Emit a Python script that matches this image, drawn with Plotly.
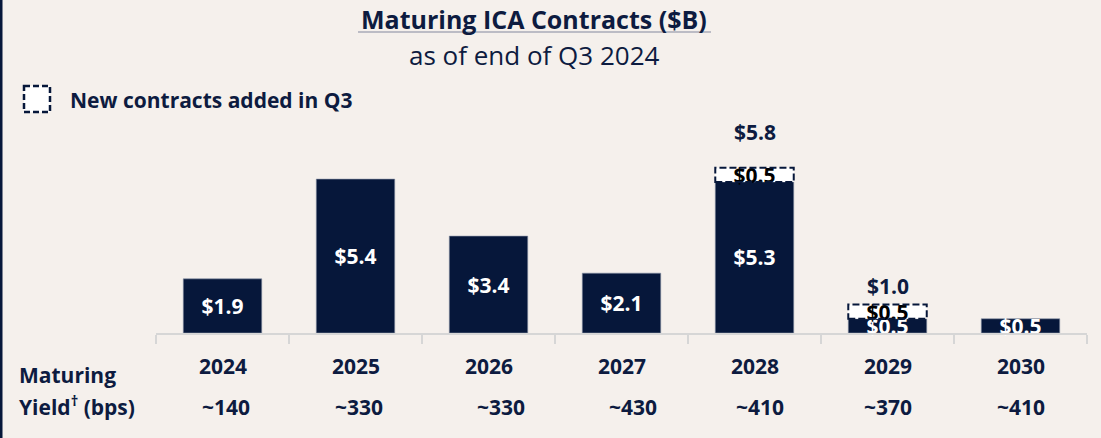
import plotly.graph_objects as go

years = ["2024", "2025", "2026", "2027", "2028", "2029", "2030"]
existing = [1.9, 5.4, 3.4, 2.1, 5.3, 0.5, 0.5]
new_q3 = [0, 0, 0, 0, 0.5, 0.5, 0]
totals = ["", "", "", "", "$5.8", "$1.0", ""]
yields = ["~140", "~330", "~330", "~430", "~410", "~370", "~410"]

NAVY = "#06173a"
TEXT = "#0d1b40"
BG = "#f5f0ec"
FONT = "Open Sans"
DASH = "7px,3px"

W, H = 1101, 438
L, R, T, B = 156, 14, 120, 105
BAR_W = 0.59


def px(x):
    return (x - L) / (W - L - R)


def py(y):
    return (H - B - y) / (H - T - B)


fig = go.Figure()

fig.add_trace(go.Bar(
    x=years, y=existing, width=BAR_W,
    marker=dict(color=NAVY, line=dict(color="#8a93a8", width=0.6)),
    text=[f"${v:.1f}" for v in existing],
    textposition="inside", insidetextanchor="middle", constraintext="none",
    textfont=dict(family=FONT, size=21, color="white", weight="bold"),
    cliponaxis=False, showlegend=False, hoverinfo="skip",
))
fig.add_trace(go.Bar(
    x=years, y=new_q3, base=existing, width=BAR_W,
    marker=dict(color="white", line=dict(width=0)),
    text=[f"${v:.1f}" if v else "" for v in new_q3],
    textposition="inside", insidetextanchor="middle", constraintext="none",
    textfont=dict(family=FONT, size=21, color="black", weight="bold"),
    cliponaxis=False, showlegend=False, hoverinfo="skip",
))

# dashed outlines around the new Q3 contracts
for i, (e, n) in enumerate(zip(existing, new_q3)):
    if n:
        fig.add_shape(type="rect", xref="x", yref="y",
                      x0=i - BAR_W / 2, x1=i + BAR_W / 2, y0=e, y1=e + n,
                      line=dict(color=NAVY, width=2, dash=DASH), layer="above")

# totals above stacked bars
total_shift = [0, 0, 0, 0, 20, 3, 0]
for i, t in enumerate(totals):
    if t:
        fig.add_annotation(x=i, y=existing[i] + new_q3[i], text=f"<b>{t}</b>",
                           yanchor="bottom", yshift=total_shift[i], showarrow=False,
                           font=dict(family=FONT, size=21, color=TEXT))

# year and yield rows
yield_shift = [3, 3, 12, 11, 5, 0, 0]
for i, (yr, yl) in enumerate(zip(years, yields)):
    fig.add_annotation(x=i, y=py(366), yref="paper", yanchor="middle", text=f"<b>{yr}</b>",
                       showarrow=False, font=dict(family=FONT, size=21, color=TEXT))
    fig.add_annotation(x=i, y=py(407), yref="paper", yanchor="middle", text=f"<b>{yl}</b>",
                       xshift=yield_shift[i], showarrow=False,
                       font=dict(family=FONT, size=21, color=TEXT))

fig.add_annotation(x=px(17), y=py(375), xref="paper", yref="paper", xanchor="left",
                   yanchor="middle", text="<b>Maturing</b>", showarrow=False,
                   font=dict(family=FONT, size=21, color=TEXT))
fig.add_annotation(x=px(17), y=py(405), xref="paper", yref="paper", xanchor="left",
                   yanchor="middle", text="<b>Yield<sup>†</sup> (bps)</b>", showarrow=False,
                   font=dict(family=FONT, size=21, color=TEXT))

# title
fig.add_annotation(x=px(534), y=py(19), xref="paper", yref="paper",
                   xanchor="center", yanchor="middle",
                   text="<b>Maturing ICA Contracts ($B)</b>", showarrow=False,
                   font=dict(family=FONT, size=25, color=TEXT))
fig.add_shape(type="line", xref="paper", yref="paper",
              x0=px(358), x1=px(711), y0=py(32), y1=py(32),
              line=dict(color="#a8abb8", width=1.5))
fig.add_annotation(x=px(534), y=py(55), xref="paper", yref="paper",
                   xanchor="center", yanchor="middle",
                   text="as of end of Q3 2024", showarrow=False,
                   font=dict(family=FONT, size=26, color=TEXT))

# legend
fig.add_shape(type="rect", xref="paper", yref="paper",
              x0=px(24), x1=px(50), y0=py(86), y1=py(112),
              fillcolor="white", line=dict(color=NAVY, width=2.5, dash="6px,3px"))
fig.add_annotation(x=px(68), y=py(100), xref="paper", yref="paper", xanchor="left",
                   yanchor="middle", text="<b>New contracts added in Q3</b>", showarrow=False,
                   font=dict(family=FONT, size=21, color=TEXT))

# left border
fig.add_shape(type="line", xref="paper", yref="paper",
              x0=px(1), x1=px(1), y0=py(0), y1=py(H),
              line=dict(color=NAVY, width=3))

fig.update_layout(
    width=W, height=H, barmode="overlay",
    margin=dict(l=L, r=R, t=T, b=B),
    paper_bgcolor=BG, plot_bgcolor=BG,
    font=dict(family=FONT, color=TEXT),
)
fig.update_xaxes(type="category", range=[-0.5, 6.5], showline=True, linecolor="#d6d6d6",
                 linewidth=2, ticks="outside", tickson="boundaries", ticklen=9,
                 tickcolor="#d6d6d6", tickwidth=2, showticklabels=False, showgrid=False)
fig.update_yaxes(range=[0, 213 / 28.5], visible=False)

fig.write_html("out.html", config={"displayModeBar": False},
               post_script="document.body.style.margin='0';")
